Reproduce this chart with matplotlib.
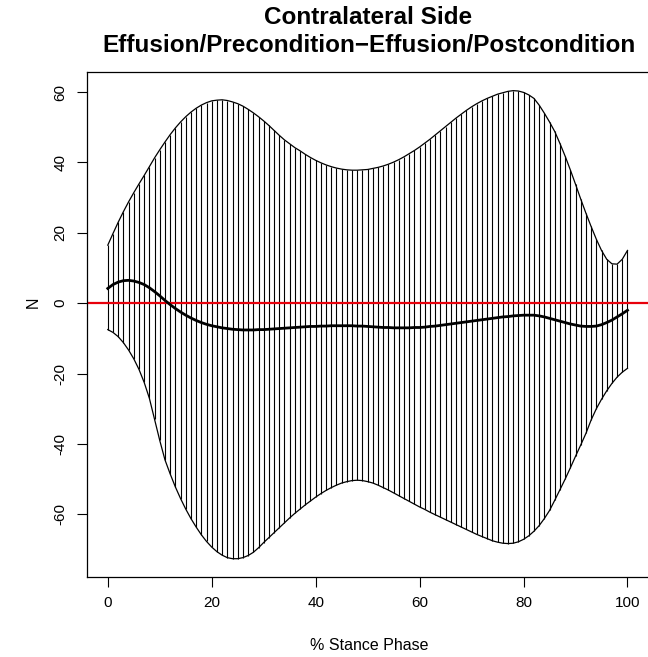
import numpy as np
import matplotlib
matplotlib.use("Agg")
import matplotlib.pyplot as plt

plt.rcParams['font.family'] = ['Liberation Sans', 'DejaVu Sans']
plt.rcParams['axes.unicode_minus'] = False

# % stance phase, one value per percent
stance = np.arange(0, 101)

upper = [16.5, 19.8, 23.0, 26.0, 28.8, 31.4, 33.9, 36.3, 38.8, 41.3,
         43.6, 45.8, 47.9, 49.8, 51.5, 53.0, 54.3, 55.4, 56.3, 57.0,
         57.5, 57.7, 57.8, 57.6, 57.2, 56.7, 56.0, 55.1, 54.1, 53.0,
         51.8, 50.5, 49.1, 47.7, 46.4, 45.3, 44.2, 43.3, 42.3, 41.4,
         40.6, 39.9, 39.3, 38.8, 38.4, 38.1, 37.9, 37.8, 37.8, 37.9,
         38.0, 38.3, 38.6, 39.0, 39.5, 40.1, 40.8, 41.6, 42.5, 43.4,
         44.4, 45.5, 46.6, 47.8, 49.0, 50.2, 51.4, 52.6, 53.7, 54.8,
         55.8, 56.7, 57.5, 58.2, 58.8, 59.4, 59.8, 60.2, 60.4, 60.3,
         59.9, 59.2, 58.2, 56.3, 54.0, 51.5, 48.8, 45.4, 41.8, 37.9,
         33.8, 29.6, 25.6, 21.8, 18.2, 15.0, 12.5, 11.2, 11.1, 12.5,
         15.0]

lower = [-7.5, -8.3, -9.5, -11.2, -13.3, -15.8, -18.8, -22.5, -27.0, -33.0,
         -39.0, -44.5, -48.5, -52.2, -55.5, -58.5, -61.2, -63.6, -65.8, -67.7,
         -69.3, -70.6, -71.6, -72.3, -72.6, -72.6, -72.3, -71.7, -70.8, -69.5,
         -68.0, -66.6, -65.2, -63.8, -62.4, -61.0, -59.7, -58.5, -57.3, -56.2,
         -55.1, -54.1, -53.2, -52.4, -51.7, -51.1, -50.7, -50.4, -50.3, -50.4,
         -50.7, -51.1, -51.7, -52.4, -53.1, -53.9, -54.7, -55.5, -56.3, -57.1,
         -57.9, -58.6, -59.4, -60.1, -60.8, -61.5, -62.2, -62.9, -63.6, -64.3,
         -65.0, -65.7, -66.3, -66.9, -67.5, -67.9, -68.2, -68.3, -68.2, -67.8,
         -67.1, -66.1, -64.8, -63.2, -61.2, -58.9, -56.0, -53.0, -50.0, -46.8,
         -43.5, -40.3, -37.0, -33.2, -30.0, -27.3, -24.9, -22.8, -21.0, -19.6,
         -18.5]

mean_diff = [4.2, 5.3, 6.0, 6.4, 6.5, 6.3, 5.9, 5.3, 4.4, 3.3,
             2.1, 0.8, -0.4, -1.5, -2.5, -3.4, -4.2, -4.9, -5.5, -6.0,
             -6.4, -6.7, -7.0, -7.2, -7.4, -7.5, -7.6, -7.6, -7.6, -7.5,
             -7.5, -7.4, -7.3, -7.2, -7.1, -7.0, -6.9, -6.8, -6.7, -6.6,
             -6.6, -6.5, -6.5, -6.4, -6.4, -6.4, -6.4, -6.4, -6.5, -6.5,
             -6.6, -6.7, -6.8, -6.9, -6.9, -7.0, -7.0, -7.0, -7.0, -6.9,
             -6.9, -6.8, -6.6, -6.5, -6.3, -6.1, -5.9, -5.7, -5.5, -5.3,
             -5.1, -4.9, -4.7, -4.5, -4.3, -4.1, -3.9, -3.8, -3.6, -3.5,
             -3.4, -3.4, -3.4, -3.6, -3.9, -4.3, -4.7, -5.1, -5.5, -5.9,
             -6.2, -6.5, -6.6, -6.6, -6.5, -6.1, -5.5, -4.8, -3.9, -3.0,
             -2.0]

x_ticks = [0, 20, 40, 60, 80, 100]
y_ticks = [-60, -40, -20, 0, 20, 40, 60]

fig = plt.figure(figsize=(6.48, 6.57), dpi=100)
# plot box runs a little past the right edge of the picture (cropped in the original)
ax = fig.add_axes([87 / 648, 1 - 577 / 657, 566 / 648, 505 / 657])

# band drawn as vertical segments, one per percent
ax.vlines(stance, lower, upper, color="black", linewidth=0.8)
ax.plot(stance, upper, color="black", linewidth=0.9)
ax.plot(stance, lower, color="black", linewidth=0.9)
ax.axhline(0, color="#e8000b", linewidth=1.6)
ax.plot(stance, mean_diff, color="black", linewidth=2.0)

ax.set_xlim(-4, -4 + 566 / 5.197)
ax.set_ylim(-77.8, 65.7)
ax.set_xticks(x_ticks)
ax.set_yticks(y_ticks)
ax.set_yticklabels([str(v) for v in y_ticks], rotation=90, va="center")
ax.tick_params(direction="out", length=7, width=0.8, labelsize=11, colors="black")
ax.tick_params(axis="x", pad=7)
ax.tick_params(axis="y", pad=7)
for s in ax.spines.values():
    s.set_linewidth(0.9)

fig.text(369 / 648, 1 - 645 / 657, "% Stance Phase", ha="center", va="center", fontsize=11.5)
fig.text(33 / 648, 1 - 302 / 657, "N", ha="center", va="center", rotation=90, fontsize=11.5)

fig.text(368 / 648, 1 - 17 / 657, "Contralateral Side", ha="center", va="center",
         fontsize=17.5, fontweight="bold")
fig.text(369 / 648, 1 - 46 / 657, "Effusion/Precondition\u2212Effusion/Postcondition",
         ha="center", va="center", fontsize=17.5, fontweight="bold")

fig.savefig("out.png", dpi=100)
